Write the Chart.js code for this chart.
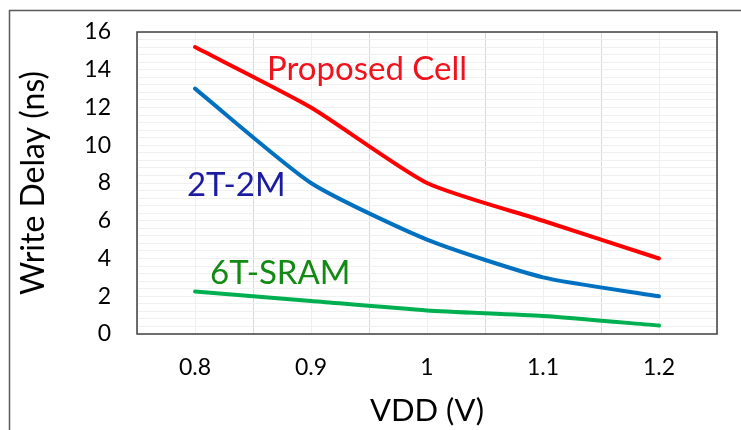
<!DOCTYPE html>
<html>
<head>
<meta charset="utf-8">
<script src="https://cdn.jsdelivr.net/npm/chart.js@4.4.1/dist/chart.umd.min.js"></script>
<style>
  html, body { margin: 0; padding: 0; background: #fff; }
  #wrap { width: 741px; height: 430px; position: relative; }
</style>
</head>
<body>
<div id="wrap"><canvas id="delayChart" width="741" height="430"></canvas></div>
<script>
// data
const vddLabels = ['0.8', '0.9', '1', '1.1', '1.2'];
const proposedCell = [15.2, 12, 8, 6, 4];
const twoT2M = [13, 8, 5, 3, 2];
const sram6T = [2.25, 1.75, 1.25, 0.95, 0.45];
const yTicks = [0, 2, 4, 6, 8, 10, 12, 14, 16];

// where the series names sit (category index, value)
const seriesNotes = [
    { text: 'Proposed Cell', at: [0.62, 14.0], color: '#f0121c' },
    { text: '2T-2M', at: [-0.07, 7.9], color: '#1c1ca0' },
    { text: '6T-SRAM', at: [0.13, 3.2], color: '#138a13' }
];

const FONT = 'Lato, "Open Sans", sans-serif';

// outer border, plot frame and the series names
const decorations = {
    id: 'decorations',
    afterDraw(chart) {
        const c = chart.ctx;
        const a = chart.chartArea;
        c.save();
        c.strokeStyle = '#5a5a5a';
        c.lineWidth = 1.5;
        c.beginPath();
        c.moveTo(9.5, 430);
        c.lineTo(9.5, 10.5);
        c.lineTo(741, 10.5);
        c.stroke();

        c.strokeStyle = '#404040';
        c.lineWidth = 1.5;
        c.strokeRect(a.left, a.top, a.right - a.left, a.bottom - a.top);

        const xs = chart.scales.x, ys = chart.scales.y;
        c.font = '33px ' + FONT;
        c.textAlign = 'left';
        c.textBaseline = 'middle';
        seriesNotes.forEach(n => {
            c.fillStyle = n.color;
            c.fillText(n.text, xs.getPixelForValue(n.at[0]), ys.getPixelForValue(n.at[1]));
        });
        c.restore();
    }
};

const ctx = document.getElementById('delayChart').getContext('2d');
const delayChart = new Chart(ctx, {
    type: 'line',
    data: {
        labels: vddLabels,
        datasets: [
            { label: 'Proposed Cell', data: proposedCell, borderColor: '#ff0000' },
            { label: '2T-2M', data: twoT2M, borderColor: '#0070c0' },
            { label: '6T-SRAM', data: sram6T, borderColor: '#00b050' }
        ]
    },
    options: {
        responsive: false,
        animation: false,
        layout: { padding: { left: 0, top: 32, right: 24, bottom: 0 } },
        elements: {
            line: { borderWidth: 4, tension: 0.2, borderCapStyle: 'round', borderJoinStyle: 'round' },
            point: { radius: 0 }
        },
        plugins: { legend: { display: false }, tooltip: { enabled: false } },
        scales: {
            x: {
                type: 'category',
                offset: true,
                grid: { offset: true, color: '#d9d9d9', drawTicks: false, lineWidth: 1 },
                border: { display: false },
                ticks: { color: '#000', font: { family: FONT, size: 23 }, padding: 20 },
                title: {
                    display: true, text: 'VDD (V)', color: '#000',
                    font: { family: FONT, size: 31 }, padding: { top: 4, bottom: 0 }
                },
                afterFit(s) { s.height = 96; }
            },
            xMinor: {
                type: 'category',
                offset: true,
                position: 'bottom',
                display: true,
                grid: { offset: false, color: '#efefef', drawTicks: false },
                border: { display: false },
                ticks: { display: false },
                afterFit(s) { s.height = 0; }
            },
            y: {
                min: 0, max: 16,
                afterBuildTicks(s) { s.ticks = yTicks.map(v => ({ value: v })); },
                grid: { color: '#d9d9d9', drawTicks: false },
                border: { display: false },
                ticks: { color: '#000', font: { family: FONT, size: 23 }, padding: 26 },
                title: {
                    display: true, text: 'Write Delay (ns)', color: '#000',
                    font: { family: FONT, size: 32 }, padding: { top: 14, bottom: 0 }
                },
                // tick padding would otherwise push the plot top down
                afterFit(s) { s.width = 137; s.paddingTop = 0; s.paddingBottom = 0; }
            },
            yMinor: {
                min: 0, max: 16,
                position: 'left',
                grid: { color: '#f0f0f0', drawTicks: false },
                border: { display: false },
                ticks: { display: false, stepSize: 0.4 },
                afterFit(s) { s.width = 0; s.paddingTop = 0; s.paddingBottom = 0; }
            }
        }
    },
    plugins: [decorations]
});
</script>
</body>
</html>
